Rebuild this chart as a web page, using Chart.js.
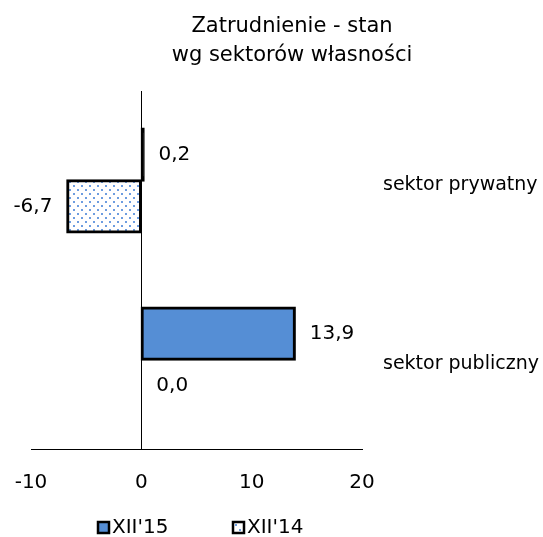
<!DOCTYPE html>
<html>
<head>
<meta charset="utf-8">
<script src="https://cdn.jsdelivr.net/npm/chart.js@4"></script>
<style>
  html, body { margin: 0; padding: 0; background: #fff; }
  #wrap { position: relative; width: 543px; height: 537px; }
  #title {
    position: absolute; left: 132px; top: 11px; width: 320px;
    text-align: center; font-family: 'DejaVu Sans', sans-serif;
    font-size: 21px; line-height: 29px; color: #000;
  }
</style>
</head>
<body>
<div id="wrap">
  <canvas id="chart" width="543" height="537"></canvas>
  <div id="title">Zatrudnienie - stan<br>wg sektorów własności</div>
</div>
<script>
// Data.
const categories = ['sektor prywatny', 'sektor publiczny'];
const seriesNames = ["XII'15", "XII'14"];
const values15 = [0.2, 13.9];
const values14 = [-6.7, 0.0];
const xTicks = [-10, 0, 10, 20];

const FONT = "'DejaVu Sans', sans-serif";

// Blue dots on white, like the Excel "small confetti" fill.
function dotPattern() {
  const c = document.createElement('canvas');
  c.width = 8; c.height = 8;
  const g = c.getContext('2d');
  g.fillStyle = '#fff';
  g.fillRect(0, 0, 8, 8);
  g.fillStyle = '#6d9de0';
  g.fillRect(1, 1, 2, 2);
  g.fillRect(5, 5, 2, 2);
  return g.createPattern(c, 'repeat');
}
const BLUE = '#558ed5';
const DOTS = dotPattern();

// A bar thinner than its outline shows up as solid outline colour.
const fillFor = base => ctx => {
  const v = ctx.raw;
  return (v !== undefined && v !== 0 && Math.abs(v) < 0.5) ? '#000' : base;
};

const fmt = v => v.toFixed(1).replace('.', ',');

// Value labels just past the end of each bar.
const valueLabels = {
  id: 'valueLabels',
  afterDatasetsDraw(chart) {
    const ctx = chart.ctx;
    ctx.save();
    ctx.font = `20px ${FONT}`;
    ctx.fillStyle = '#000';
    ctx.textBaseline = 'middle';
    chart.data.datasets.forEach((ds, i) => {
      chart.getDatasetMeta(i).data.forEach((bar, j) => {
        const v = ds.data[j];
        if (v < 0) {
          ctx.textAlign = 'right';
          ctx.fillText(fmt(v), bar.x - 15, bar.y);
        } else {
          ctx.textAlign = 'left';
          ctx.fillText(fmt(v), Math.max(bar.x, bar.base) + 15, bar.y);
        }
      });
    });
    ctx.restore();
  }
};

// Legend drawn by hand so it sits where the reference has it.
const bottomLegend = {
  id: 'bottomLegend',
  afterDraw(chart) {
    const ctx = chart.ctx;
    const pos = [97, 232];
    const y = 527;
    ctx.save();
    ctx.font = `20px ${FONT}`;
    ctx.textBaseline = 'middle';
    ctx.textAlign = 'left';
    chart.data.datasets.forEach((ds, i) => {
      const x = pos[i];
      ctx.fillStyle = i === 0 ? BLUE : '#fff';
      ctx.fillRect(x, y - 6, 13, 13);
      if (i === 1) {
        ctx.fillStyle = '#6d9de0';
        ctx.fillRect(x + 3, y - 3, 2, 2);
        ctx.fillRect(x + 7, y + 2, 2, 2);
      }
      ctx.strokeStyle = '#000';
      ctx.lineWidth = 2.5;
      ctx.strokeRect(x + 1, y - 5, 11, 11);
      ctx.fillStyle = '#000';
      ctx.fillText(ds.label, x + 15, y + 1);
    });
    ctx.restore();
  }
};

new Chart(document.getElementById('chart'), {
  type: 'bar',
  data: {
    labels: categories,
    datasets: [
      { label: seriesNames[0], data: values15, backgroundColor: fillFor(BLUE),
        borderColor: '#000', borderWidth: 3, borderSkipped: false, inflateAmount: 1.2 },
      { label: seriesNames[1], data: values14, backgroundColor: fillFor(DOTS),
        borderColor: '#000', borderWidth: 3, borderSkipped: false, inflateAmount: 1.2 },
    ],
  },
  options: {
    indexAxis: 'y',
    responsive: false,
    animation: false,
    layout: { padding: { top: 91, left: 31, right: 0, bottom: 0 } },
    datasets: { bar: { categoryPercentage: 0.58, barPercentage: 1 } },
    plugins: {
      legend: { display: false },
      title: { display: false },
      tooltip: { enabled: false },
    },
    scales: {
      x: {
        min: -10, max: 20,
        afterBuildTicks: s => { s.ticks = xTicks.map(v => ({ value: v })); },
        afterFit: s => { s.height = 88; s.paddingLeft = 0; s.paddingRight = 0; },
        grid: {
          drawTicks: false,
          color: c => (c.tick && c.tick.value === 0 ? '#000' : 'transparent'),
          lineWidth: 1,
        },
        border: { display: true, color: '#000', width: 1 },
        ticks: { color: '#000', font: { family: FONT, size: 20 }, padding: 22 },
      },
      y: {
        position: 'right',
        afterFit: s => { s.width = 181; s.paddingTop = 0; s.paddingBottom = 0; },
        grid: { display: false, drawTicks: false },
        border: { display: false },
        ticks: { color: '#000', font: { family: FONT, size: 19 }, padding: 21, labelOffset: 5 },
      },
    },
  },
  plugins: [valueLabels, bottomLegend],
});
</script>
</body>
</html>
